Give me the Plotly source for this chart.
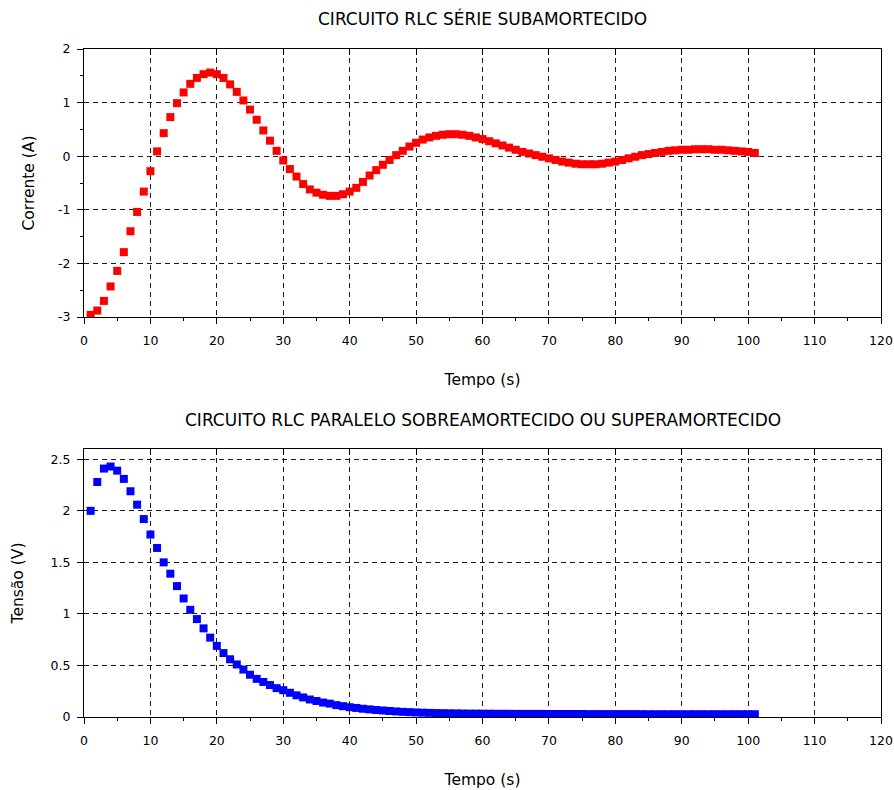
import plotly.graph_objects as go

# ---------------- data ----------------
tempo = list(range(1, 102))

corrente = [
    -2.96, -2.88, -2.70, -2.43, -2.14, -1.79, -1.40, -1.04, -0.66, -0.28,
    0.09, 0.43, 0.73, 0.99, 1.19, 1.35, 1.46, 1.53, 1.56, 1.53,
    1.46, 1.34, 1.20, 1.04, 0.87, 0.68, 0.48, 0.29, 0.10, -0.08,
    -0.24, -0.38, -0.52, -0.62, -0.68, -0.72, -0.74, -0.74, -0.71, -0.66,
    -0.59, -0.48, -0.36, -0.26, -0.16, -0.07, 0.02, 0.10, 0.18, 0.25,
    0.31, 0.35, 0.38, 0.40, 0.41, 0.41, 0.40, 0.38, 0.35, 0.32,
    0.28, 0.24, 0.20, 0.16, 0.12, 0.08, 0.05, 0.02, -0.01, -0.04,
    -0.07, -0.10, -0.12, -0.14, -0.15, -0.15, -0.15, -0.14, -0.12, -0.10,
    -0.07, -0.04, -0.01, 0.02, 0.04, 0.06, 0.08, 0.10, 0.11, 0.12,
    0.12, 0.13, 0.13, 0.13, 0.12, 0.12, 0.11, 0.10, 0.09, 0.08,
    0.06,
]

tensao = [
    2.00, 2.28, 2.41, 2.43, 2.39, 2.31, 2.19, 2.06, 1.92, 1.77,
    1.64, 1.50, 1.39, 1.27, 1.15, 1.04, 0.95, 0.86, 0.77, 0.69,
    0.62, 0.56, 0.51, 0.46, 0.41, 0.37, 0.34, 0.31, 0.28, 0.26,
    0.235, 0.21, 0.19, 0.17, 0.155, 0.14, 0.13, 0.115, 0.105, 0.095,
    0.088, 0.080, 0.074, 0.068, 0.063, 0.058, 0.054, 0.050, 0.047, 0.044,
    0.042, 0.040, 0.038, 0.037, 0.036, 0.035, 0.034, 0.033, 0.033, 0.032,
    0.032, 0.031, 0.031, 0.031, 0.030, 0.030, 0.030, 0.030, 0.030, 0.029,
    0.029, 0.029, 0.029, 0.029, 0.029, 0.028, 0.028, 0.028, 0.028, 0.028,
    0.028, 0.028, 0.028, 0.028, 0.027, 0.027, 0.027, 0.027, 0.027, 0.027,
    0.027, 0.027, 0.027, 0.027, 0.027, 0.027, 0.027, 0.027, 0.027, 0.027,
    0.027,
]

x_ticks = [0, 10, 20, 30, 40, 50, 60, 70, 80, 90, 100, 110, 120]
y1_ticks = [-3, -2, -1, 0, 1, 2]
y1_ticktext = ["-3", "-2", "-1", "0", "1", "2"]
y2_ticks = [0, 0.5, 1, 1.5, 2, 2.5]
y2_ticktext = ["0", "0.5", "1", "1.5", "2", "2.5"]

title_top = "CIRCUITO RLC SÉRIE SUBAMORTECIDO"
title_bottom = "CIRCUITO RLC PARALELO SOBREAMORTECIDO OU SUPERAMORTECIDO"
x_label = "Tempo (s)"
y1_label = "Corrente (A)"
y2_label = "Tensão (V)"

# ---------------- figure ----------------
FONT = "DejaVu Sans"
L, R, T, B = 84, 13, 49, 73
H = 790 - T - B
fig = go.Figure()

fig.add_trace(go.Scatter(
    x=tempo, y=corrente, mode="markers", xaxis="x", yaxis="y",
    marker=dict(symbol="square", size=8, color="#ff0000", line=dict(width=0)),
    showlegend=False, cliponaxis=True,
))
fig.add_trace(go.Scatter(
    x=tempo, y=tensao, mode="markers", xaxis="x2", yaxis="y2",
    marker=dict(symbol="square", size=8, color="#0000ff", line=dict(width=0)),
    showlegend=False, cliponaxis=True,
))

grid = dict(showgrid=True, gridcolor="#1a1a1a", gridwidth=1, griddash="5px,4px")
tickfont = dict(family=FONT, size=12.5, color="#000000")
labfont = dict(family=FONT, size=15.5, color="#000")

def xax(anchor):
    return dict(
        range=[0, 120], tickvals=x_ticks, ticks="outside", ticklen=6,
        tickcolor="#000", tickwidth=1, showline=True, linecolor="#000",
        linewidth=1, mirror=True, zeroline=False, anchor=anchor,
        tickfont=tickfont, ticklabelstandoff=6,
        minor=dict(dtick=5, ticks="outside", ticklen=3, tickcolor="#000", showgrid=False),
        title=dict(text=x_label, font=labfont, standoff=27),
        **grid,
    )

top_dom = [(717 - 317) / H, 1.0]
bot_dom = [0.0, (717 - 449) / H]

fig.update_layout(
    width=894, height=790,
    margin=dict(l=L, r=R, t=T, b=B, autoexpand=False),
    paper_bgcolor="#ffffff", plot_bgcolor="#ffffff",
    xaxis=dict(domain=[0, 1], **xax("y")),
    xaxis2=dict(domain=[0, 1], **xax("y2")),
    yaxis=dict(
        domain=top_dom, range=[-3, 2], tickvals=y1_ticks, ticktext=y1_ticktext,
        ticks="outside", ticklen=6, tickcolor="#000", showline=True, linecolor="#000",
        linewidth=1, mirror=True, zeroline=False, anchor="x", tickfont=tickfont,
        ticklabelstandoff=4,
        minor=dict(dtick=0.5, ticks="outside", ticklen=3, tickcolor="#000", showgrid=False),
        title=dict(text=y1_label, font=labfont, standoff=19),
        **grid,
    ),
    yaxis2=dict(
        domain=bot_dom, range=[0, 2.6], tickvals=y2_ticks, ticktext=y2_ticktext,
        ticks="outside", ticklen=6, tickcolor="#000", showline=True, linecolor="#000",
        linewidth=1, mirror=True, zeroline=False, anchor="x2", tickfont=tickfont,
        ticklabelstandoff=4,
        title=dict(text=y2_label, font=labfont, standoff=23),
        **grid,
    ),
    xaxis3=dict(overlaying="x", side="top", anchor="y", range=[0, 120], tickvals=x_ticks,
                ticks="inside", ticklen=6, tickcolor="#000", showticklabels=False,
                showgrid=False, zeroline=False, showline=False),
    xaxis4=dict(overlaying="x2", side="top", anchor="y2", range=[0, 120], tickvals=x_ticks,
                ticks="inside", ticklen=6, tickcolor="#000", showticklabels=False,
                showgrid=False, zeroline=False, showline=False),
    annotations=[
        dict(text=title_top, x=0.5, y=(717 - 18) / H, xref="paper", yref="paper",
             xanchor="center", yanchor="middle", showarrow=False,
             font=dict(family=FONT, size=17, color="#000")),
        dict(text=title_bottom, x=0.5, y=(717 - 420) / H, xref="paper", yref="paper",
             xanchor="center", yanchor="middle", showarrow=False,
             font=dict(family=FONT, size=17, color="#000")),
    ],
)

fig.add_trace(go.Scatter(x=[None], y=[None], xaxis="x3", yaxis="y", showlegend=False, hoverinfo="skip"))
fig.add_trace(go.Scatter(x=[None], y=[None], xaxis="x4", yaxis="y2", showlegend=False, hoverinfo="skip"))

fig.write_html("out.html")
